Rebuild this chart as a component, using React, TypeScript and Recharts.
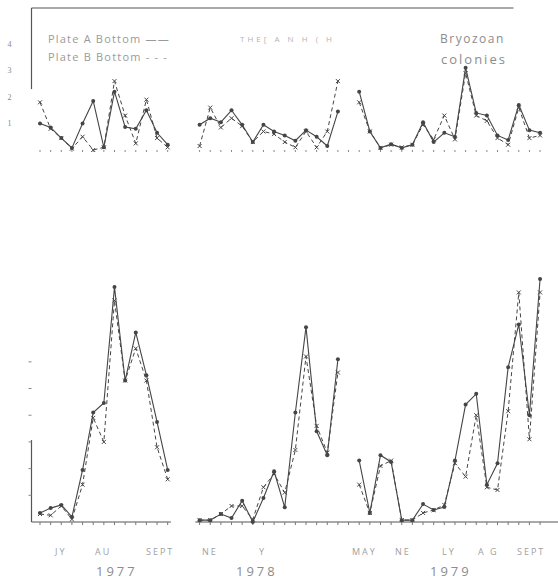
import { LineChart, Line, XAxis, YAxis, ReferenceLine } from "recharts";

// sampling slots (one slot ~ one week), 1977 | gap | 1978 | 1979
const slots = Array.from({ length: 48 }, (_, i) => i);
const tickSlots = slots.filter((k) => k !== 13 && k !== 14);

// upper panel
const topPlateA = [
    1.0, 0.85, 0.45, 0.08, 1.0, 1.85, 0.1, 2.2, 0.87, 0.8, 1.5, 0.65, 0.2,
    null, null,
    0.95, 1.2, 1.05, 1.5, 0.95, 0.3, 0.95, 0.7, 0.55, 0.35, 0.75, 0.5, 0.15, 1.45,
    null,
    2.2, 0.7, 0.08, 0.22, 0.08, 0.2, 1.05, 0.3, 0.65, 0.5, 3.1, 1.4, 1.3, 0.55, 0.38, 1.7, 0.75, 0.65,
];
const topPlateB = [
    1.8, 0.8, 0.45, 0.05, 0.5, 0.0, 0.1, 2.6, 1.3, 0.25, 1.9, 0.45, 0.1,
    null, null,
    0.15, 1.6, 0.85, 1.2, 0.9, 0.3, 0.7, 0.6, 0.3, 0.1, 0.7, 0.1, 0.7, 2.6,
    null,
    1.8, 0.7, 0.08, 0.2, 0.1, 0.2, 0.95, 0.4, 1.3, 0.4, 2.9, 1.3, 1.1, 0.45, 0.2, 1.6, 0.45, 0.55,
];

// lower panel
const lowPlateA = [
    0.34, 0.52, 0.64, 0.19, 1.95, 4.1, 4.46, 8.8, 5.3, 7.1, 5.5, 3.75, 1.95,
    null, null,
    0.07, 0.07, 0.3, 0.15, 0.8, 0.0, 0.9, 1.9, 0.55, 4.1, 7.3, 3.4, 2.5, 6.1,
    null,
    2.3, 0.34, 2.5, 2.25, 0.07, 0.07, 0.67, 0.45, 0.56, 2.3, 4.4, 4.8, 1.4, 2.2, 5.8, 7.4, 4.0, 9.1,
];
const lowPlateB = [
    0.3, 0.25, 0.6, 0.1, 1.4, 3.9, 3.0, 8.3, 5.3, 6.5, 5.3, 2.8, 1.6,
    null, null,
    0.07, 0.07, 0.3, 0.6, 0.6, 0.1, 1.3, 1.8, 1.1, 2.7, 6.2, 3.6, 2.6, 5.6,
    null,
    1.4, 0.34, 2.1, 2.3, 0.07, 0.07, 0.34, 0.45, 0.64, 2.2, 1.7, 4.0, 1.3, 1.2, 4.15, 8.6, 3.1, 8.6,
];

const topTicks = [1, 2, 3, 4];
const lowTicks = [1, 2, 3, 4, 5, 6];

const monthLabels = [
    { text: "JY", x: 55 }, { text: "AU", x: 95 }, { text: "SEPT", x: 146 },
    { text: "NE", x: 202 }, { text: "Y", x: 259 },
    { text: "MAY", x: 352 }, { text: "NE", x: 395 }, { text: "LY", x: 442 },
    { text: "A  G", x: 478 }, { text: "SEPT", x: 517 },
];
const yearLabels = [
    { text: "1977", x: 96 }, { text: "1978", x: 236 }, { text: "1979", x: 430 },
];

const topData = slots.map((k, i) => ({ k, a: topPlateA[i], b: topPlateB[i] }));
const lowData = slots.map((k, i) => ({ k, a: lowPlateA[i], b: lowPlateB[i] }));

const INK = "#454545";
const FAINT = "#9a9a9a";
const X_DOMAIN: [number, number] = [-0.8, 47.2];

const dotA = (p: any) => {
    if (p.cy == null || p.value == null) return <g key={p.key} />;
    return <circle key={p.key} cx={p.cx} cy={p.cy} r={2} fill={INK} />;
};
const dotB = (p: any) => {
    if (p.cy == null || p.value == null) return <g key={p.key} />;
    const { cx, cy } = p;
    return (
        <path key={p.key} d={`M${cx - 2},${cy - 2}L${cx + 2},${cy + 2}M${cx + 2},${cy - 2}L${cx - 2},${cy + 2}`}
            stroke={INK} strokeWidth={1} />
    );
};

const txt = (extra: React.CSSProperties): React.CSSProperties => ({
    position: "absolute",
    fontFamily: "'Open Sans', 'DejaVu Sans', sans-serif",
    color: FAINT,
    whiteSpace: "nowrap",
    ...extra,
});

export default function App() {
    return (
        <div style={{ position: "fixed", left: 0, top: 0, width: 558, height: 582, background: "#fff", overflow: "hidden" }}>
            <div style={{ position: "absolute", left: 0, top: 0 }}>
                <LineChart width={558} height={160} data={topData} margin={{ top: 8, right: 15.8, left: 0, bottom: 0 }}>
                    <XAxis dataKey="k" type="number" domain={X_DOMAIN} ticks={tickSlots} height={10}
                        axisLine={false} tickLine={{ stroke: "#888" }} tickSize={2} tickFormatter={() => ""} />
                    <YAxis type="number" domain={[0, 5.36]} ticks={topTicks} width={31.5} axisLine={false}
                        tickLine={false} tick={{ fill: "#888", fontSize: 8 }} tickMargin={14} />
                    <ReferenceLine ifOverflow="visible" stroke="#555" strokeWidth={1.2}
                        segment={[{ x: -0.8, y: 5.36 }, { x: 44.5, y: 5.36 }]} />
                    <ReferenceLine ifOverflow="visible" stroke="#555" strokeWidth={1.2}
                        segment={[{ x: -0.8, y: 2.3 }, { x: -0.8, y: 5.36 }]} />
                    <Line dataKey="b" stroke={INK} strokeWidth={1} strokeDasharray="4 3" dot={dotB} isAnimationActive={false} />
                    <Line dataKey="a" stroke={INK} strokeWidth={1.1} dot={dotA} isAnimationActive={false} />
                </LineChart>
            </div>
            <div style={{ position: "absolute", left: 0, top: 270 }}>
                <LineChart width={558} height={262} data={lowData} margin={{ top: 0, right: 15.8, left: 0, bottom: 0 }}>
                    <XAxis dataKey="k" type="number" domain={X_DOMAIN} ticks={tickSlots} height={10}
                        axisLine={false} tickLine={{ stroke: "#777" }} tickSize={3} tickFormatter={() => ""} />
                    <YAxis type="number" domain={[0, 9.44]} ticks={lowTicks} width={31.5} axisLine={false}
                        tickLine={{ stroke: "#888" }} tickSize={3} tickFormatter={() => ""} />
                    <ReferenceLine ifOverflow="visible" stroke="#555" strokeWidth={1.2}
                        segment={[{ x: -0.8, y: 0 }, { x: 12.3, y: 0 }]} />
                    <ReferenceLine ifOverflow="visible" stroke="#555" strokeWidth={1.2}
                        segment={[{ x: 14.6, y: 0 }, { x: 48.8, y: 0 }]} />
                    <ReferenceLine ifOverflow="visible" stroke="#555" strokeWidth={1.2}
                        segment={[{ x: -0.8, y: 0 }, { x: -0.8, y: 3.07 }]} />
                    <Line dataKey="b" stroke={INK} strokeWidth={1} strokeDasharray="4 3" dot={dotB} isAnimationActive={false} />
                    <Line dataKey="a" stroke={INK} strokeWidth={1.1} dot={dotA} isAnimationActive={false} />
                </LineChart>
            </div>

            <div style={txt({ left: 48, top: 31, fontSize: 11, letterSpacing: 1.2 })}>Plate A Bottom ——</div>
            <div style={txt({ left: 48, top: 49, fontSize: 11, letterSpacing: 1.2 })}>Plate B Bottom - - -</div>
            <div style={txt({ left: 240, top: 33, fontSize: 8, letterSpacing: 3, color: "#b4b4b4" })}>THE[  A   N  H  ( H</div>
            <div style={txt({ left: 440, top: 30, fontSize: 12, letterSpacing: 1.5, color: "#8c8c8c" })}>Bryozoan</div>
            <div style={txt({ left: 441, top: 50, fontSize: 13, letterSpacing: 2, color: "#8c8c8c" })}>colonies</div>

            {monthLabels.map((m, i) => (
                <div key={i} style={txt({ left: m.x, top: 545, fontSize: 9, letterSpacing: 2, color: "#a0a0a0" })}>{m.text}</div>
            ))}
            {yearLabels.map((y, i) => (
                <div key={i} style={txt({ left: y.x, top: 562, fontSize: 13, letterSpacing: 3, color: "#8c8c8c" })}>{y.text}</div>
            ))}
        </div>
    );
}
